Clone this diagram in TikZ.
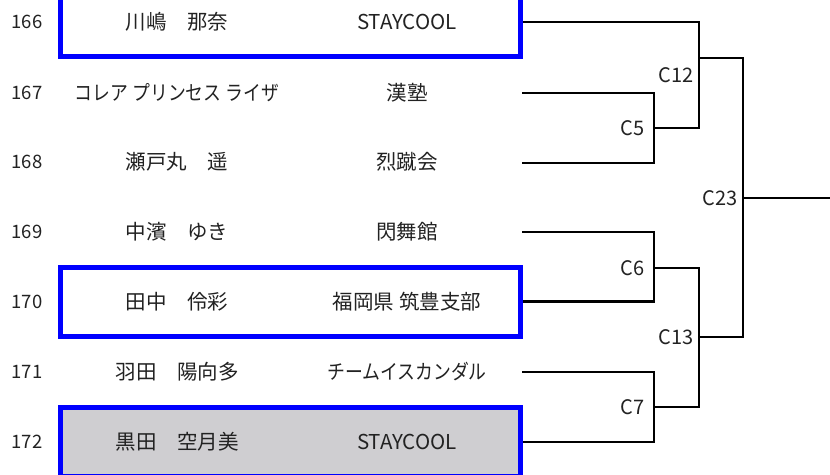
\documentclass[tikz,border=0pt]{standalone}
\usepackage{fontspec}
\usepackage{graphicx}
\setmainfont{Noto Sans CJK JP}
\definecolor{boxgray}{RGB}{207,206,209}
\definecolor{txtc}{RGB}{34,34,34}
\newcommand{\narrowkana}[1]{\scalebox{0.87}[1]{#1}}
\begin{document}
\begin{tikzpicture}[x=1pt,y=-1pt,
  entrybox/.style={draw=blue, line width=5pt, minimum width=460pt, minimum height=69pt, inner sep=0pt, outer sep=2.5pt},
  txt/.style={font=\fontsize{20.5}{22}\selectfont, text=txtc, inner sep=0pt},
  num/.style={font=\fontsize{18.5}{20}\selectfont, text=txtc, inner sep=0pt},
  lbl/.style={font=\fontsize{20}{22}\selectfont, text=txtc, inner sep=0pt, anchor=east},
  wire/.style={line width=2.6pt, black}]
\useasboundingbox (0,0) rectangle (830,474);
\clip (0,0) rectangle (830,474);
% boxes
\node[entrybox] (box166) at (290.75,22) {};
\node[entrybox] (box170) at (290.75,301.5) {};
\node[entrybox, fill=boxgray] (box172) at (290.75,442) {};
% numbers
\node[num] (n166) at (27,22) {166};
\node[num] (n167) at (27,93) {167};
\node[num] (n168) at (27,162) {168};
\node[num] (n169) at (27,232) {169};
\node[num] (n170) at (27,302) {170};
\node[num] (n171) at (27,372) {171};
\node[num] (n172) at (27,442) {172};
% names
\node[txt] (p166) at (177,22) {川嶋　那奈};
\node[txt] (p167) at (177,93) {\narrowkana{コレア プリンセス ライザ}};
\node[txt] (p168) at (177,162) {瀬戸丸　遥};
\node[txt] (p169) at (177,232) {中濱　ゆき};
\node[txt] (p170) at (177,302) {田中　伶彩};
\node[txt] (p171) at (177,372) {羽田　陽向多};
\node[txt] (p172) at (177,442) {黒田　空月美};
% teams
\node[txt] (t166) at (407,22) {STAYCOOL};
\node[txt] (t167) at (407,93) {漢塾};
\node[txt] (t168) at (407,162) {烈蹴会};
\node[txt] (t169) at (407,232) {閃舞館};
\node[txt] (t170) at (407,302) {福岡県 筑豊支部};
\node[txt] (t171) at (407,372) {\narrowkana{チームイスカンダル}};
\node[txt] (t172) at (407,442) {STAYCOOL};
% line start points
\coordinate (e167) at (522,93);
\coordinate (e168) at (522,163);
\coordinate (e169) at (522,232);
\coordinate (e171) at (522,372);
% junctions
\coordinate (c5) at (654,128);
\coordinate (c6) at (654,268);
\coordinate (c7) at (654,407);
\coordinate (c12) at (699,58);
\coordinate (c13) at (699,337);
\coordinate (c23) at (743,198);
\coordinate (out) at (830,198);
% brackets
\draw[wire] (e167) -| (c5) |- (e168);
\draw[wire] (e169) -| (c6) |- (box170.east);
\draw[wire] (e171) -| (c7) |- (box172.east);
\draw[wire] (box166.east) -| (c12) |- (c5);
\draw[wire] (c6) -| (c13) |- (c7);
\draw[wire] (c12) -| (c23) |- (c13);
\draw[wire] (c23) -- (out);
% labels
\node[lbl] (l5) at (645,128) {C5};
\node[lbl] (l6) at (645,268) {C6};
\node[lbl] (l7) at (645,407) {C7};
\node[lbl] (l12) at (694,75) {C12};
\node[lbl] (l13) at (694,337) {C13};
\node[lbl] (l23) at (738,198) {C23};
\end{tikzpicture}
\end{document}
